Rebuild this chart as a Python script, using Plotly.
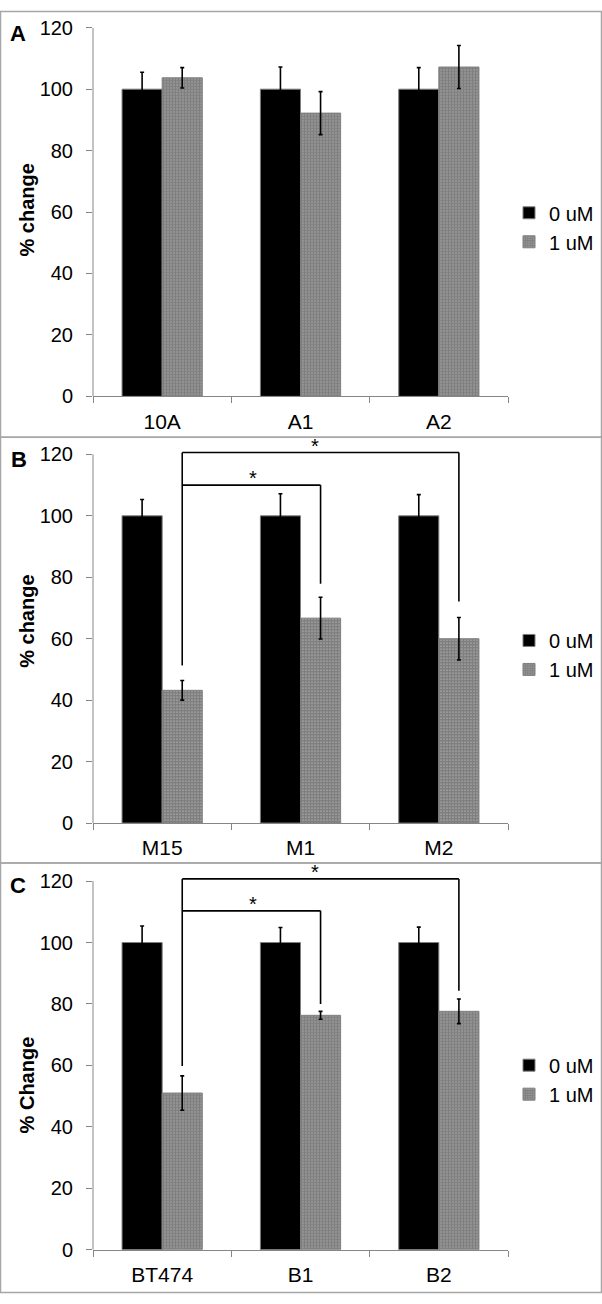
import plotly.graph_objects as go

W, H = 602, 1304

# ---------------- data ----------------
cats_A = ["10A", "A1", "A2"]
ctrl_A = [100, 100, 100]
ctrl_A_err = [5.5, 7.2, 7.0]
trt_A = [103.7, 92.2, 107.2]
trt_A_err = [3.3, 7.0, 7.0]

cats_B = ["M15", "M1", "M2"]
ctrl_B = [100, 100, 100]
ctrl_B_err = [5.3, 7.2, 6.9]
trt_B = [43.2, 66.7, 60.0]
trt_B_err = [3.2, 6.8, 6.9]

cats_C = ["BT474", "B1", "B2"]
ctrl_C = [100, 100, 100]
ctrl_C_err = [5.4, 4.9, 5.0]
trt_C = [51.0, 76.3, 77.6]
trt_C_err = [5.6, 1.3, 4.0]

# significance brackets: [left leg bottom, outer top, outer right bottom, inner top, inner right bottom]
brk_B = [51.3, 120.6, 72.1, 110.0, 77.9]
brk_C = [59.8, 120.7, 84.3, 110.3, 80.0]

series_names = ["0 uM", "1 uM"]
y_titles = ["% change", "% change", "% Change"]
panel_letters = ["A", "B", "C"]
y_ticks = [0, 20, 40, 60, 80, 100, 120]

# ---------------- layout geometry (pixels) ----------------
FONT = "Liberation Sans, Arial, sans-serif"
AX_GRAY = "#868686"
x_left, x_right = 93, 508
px_per_unit = 3.125
zero_px = [392, 826, 1260]
panel_tops = [0.5, 433.5, 866.5, 1303.5]
y_max = [120, 125, 125]
legend_mid_px = [220, 655, 1087]
title_mid_val = [60.5, 65.5, 53.5]
letter_px = [(18, 23), (19, 456), (18, 890)]

bargap = 0.42
off = (1 - bargap) / 4.0

fig = go.Figure()

panels = [
    (cats_A, ctrl_A, ctrl_A_err, trt_A, trt_A_err, None),
    (cats_B, ctrl_B, ctrl_B_err, trt_B, trt_B_err, brk_B),
    (cats_C, ctrl_C, ctrl_C_err, trt_C, trt_C_err, brk_C),
]

shapes = []
annotations = []

for i, (cats, c0, c0e, c1, c1e, brk) in enumerate(panels):
    xa = "x" if i == 0 else f"x{i+1}"
    ya = "y" if i == 0 else f"y{i+1}"
    lg = "legend" if i == 0 else f"legend{i+1}"
    fig.add_trace(go.Bar(
        x=cats, y=c0, name=series_names[0], xaxis=xa, yaxis=ya, legend=lg,
        marker=dict(color="black", line=dict(color="#7f7f7f", width=1)),
        error_y=dict(type="data", array=c0e, visible=True, color="black",
                     thickness=1.6, width=2),
    ))
    fig.add_trace(go.Bar(
        x=cats, y=c1, name=series_names[1], xaxis=xa, yaxis=ya, legend=lg,
        marker=dict(color="white", line=dict(color="#7f7f7f", width=1),
                    pattern=dict(shape=".", size=3, solidity=0.85,
                                 fgcolor="black", bgcolor="white")),
        error_y=dict(type="data", array=c1e, visible=True, color="black",
                     thickness=1.6, width=2),
    ))

    top_val = y_max[i]
    d0 = 1 - zero_px[i] / H
    d1 = 1 - (zero_px[i] - top_val * px_per_unit) / H
    axkey = "xaxis" if i == 0 else f"xaxis{i+1}"
    aykey = "yaxis" if i == 0 else f"yaxis{i+1}"
    fig.update_layout(**{
        axkey: dict(domain=[x_left / W, x_right / W], anchor=ya,
                    showline=True, linecolor=AX_GRAY, linewidth=1,
                    ticks="outside", tickson="boundaries", ticklen=6,
                    tickcolor=AX_GRAY, showgrid=False, zeroline=False,
                    ticklabelstandoff=6,
                    tickfont=dict(family=FONT, size=21, color="black")),
        aykey: dict(domain=[d0, d1], anchor=xa, range=[0, top_val],
                    tickvals=y_ticks, ticks="outside", ticklen=6,
                    tickcolor=AX_GRAY, showline=False, showgrid=False,
                    zeroline=False, ticklabelstandoff=9,
                    tickfont=dict(family=FONT, size=20, color="black")),
        lg: dict(x=509 / W, xanchor="left", y=1 - legend_mid_px[i] / H,
                 yanchor="middle", bgcolor="rgba(0,0,0,0)",
                 font=dict(family=FONT, size=20, color="black"),
                 tracegroupgap=0),
    })

    # y axis line from 0 to 120
    shapes.append(dict(type="line", xref=f"{xa} domain", yref=ya, x0=0, x1=0,
                       y0=0, y1=120, line=dict(color=AX_GRAY, width=1)))

    # panel frame
    shapes.append(dict(type="rect", xref="paper", yref="paper",
                       x0=0.5 / W, x1=601.5 / W,
                       y0=1 - panel_tops[i + 1] / H, y1=1 - panel_tops[i] / H,
                       line=dict(color="#a6a6a6", width=1.5)))

    # y title
    annotations.append(dict(text=f"<b>{y_titles[i]}</b>", xref="paper", yref=ya,
                            x=27 / W, y=title_mid_val[i], textangle=-90,
                            showarrow=False, xanchor="center", yanchor="middle",
                            font=dict(family=FONT, size=20, color="black")))
    # panel letter
    lx, ly = letter_px[i]
    annotations.append(dict(text=f"<b>{panel_letters[i]}</b>", xref="paper", yref="paper",
                            x=lx / W, y=1 - ly / H, showarrow=False,
                            xanchor="center", yanchor="middle",
                            font=dict(family=FONT, size=22, color="black")))

    if brk is not None:
        xl = 0 + off
        xm = 1 + off
        xr = 2 + off
        lw = dict(color="black", width=1.6)
        shapes.append(dict(type="line", xref=xa, yref=ya, x0=xl, x1=xl,
                           y0=brk[0], y1=brk[1], line=lw))
        shapes.append(dict(type="line", xref=xa, yref=ya, x0=xl, x1=xr,
                           y0=brk[1], y1=brk[1], line=lw))
        shapes.append(dict(type="line", xref=xa, yref=ya, x0=xr, x1=xr,
                           y0=brk[2], y1=brk[1], line=lw))
        shapes.append(dict(type="line", xref=xa, yref=ya, x0=xl, x1=xm,
                           y0=brk[3], y1=brk[3], line=lw))
        shapes.append(dict(type="line", xref=xa, yref=ya, x0=xm, x1=xm,
                           y0=brk[4], y1=brk[3], line=lw))
        annotations.append(dict(text="*", xref=xa, yref=ya, x=(xl + xr) / 2 - 0.04,
                                y=brk[1], showarrow=False, yanchor="bottom",
                                yshift=-6,
                                font=dict(family=FONT, size=20, color="black")))
        annotations.append(dict(text="*", xref=xa, yref=ya, x=(xl + xm) / 2 + 0.01,
                                y=brk[3], showarrow=False, yanchor="bottom",
                                yshift=-6,
                                font=dict(family=FONT, size=20, color="black")))

fig.update_layout(
    width=W, height=H,
    margin=dict(l=0, r=0, t=0, b=0),
    paper_bgcolor="white", plot_bgcolor="white",
    barmode="group", bargap=bargap, bargroupgap=0,
    showlegend=True,
    shapes=shapes, annotations=annotations,
    font=dict(family=FONT, color="black"),
)

fig.write_html(
    "out.html",
    config={"staticPlot": True, "displayModeBar": False},
    post_script="document.body.style.margin='0';document.body.style.padding='0';"
                "document.documentElement.style.overflow='hidden';",
)
